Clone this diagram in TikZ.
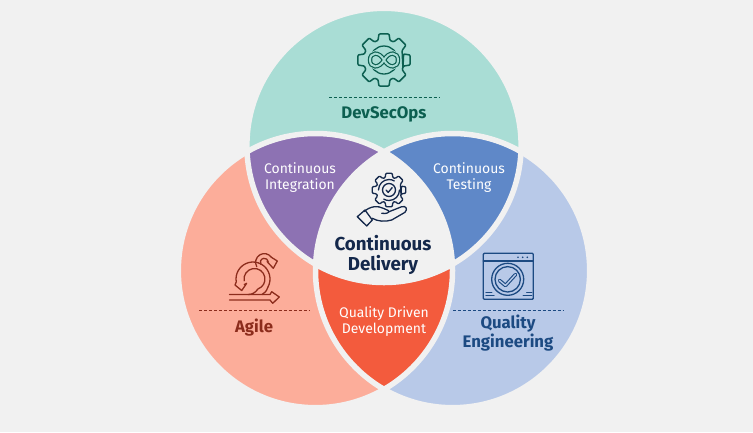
\documentclass[tikz,border=0pt]{standalone}
\usepackage{fontspec}
\setmainfont{Fira Sans}
\definecolor{bgc}{HTML}{F1F1F1}
\definecolor{greenc}{HTML}{A9DDD5}
\definecolor{salmonc}{HTML}{FCAD9A}
\definecolor{bluec}{HTML}{B8C9E8}
\definecolor{purplec}{HTML}{8D72B3}
\definecolor{midblue}{HTML}{5F88C8}
\definecolor{orangec}{HTML}{F35B3D}
\definecolor{dgreen}{HTML}{0C5F50}
\definecolor{dred}{HTML}{8C2C1C}
\definecolor{dblue}{HTML}{1C4A82}
\definecolor{navy}{HTML}{14284B}
\tikzset{
  gapline/.style={draw=bgc,line width=5.5bp},
  sep/.style={densely dashed,line width=0.7bp},
  inner/.style={text=white,align=center,font=\fontsize{14}{16}\selectfont,inner sep=0pt},
  title/.style={align=center,font=\fontsize{16.8}{16}\selectfont\bfseries,inner sep=0pt},
  icon/.style={line width=1.3bp,line join=round,line cap=round,fill=none},
}
\newcommand{\gearpath}[3]{\draw[icon,rounded corners=0.9bp,#3] (22.5:#1)
  \foreach \a in {0,45,...,315} { -- (\a-17:#1) -- (\a-11:#2) -- (\a+11:#2) -- (\a+17:#1) } -- cycle;}
\newcommand{\infpath}{(0,0) .. controls (5,-9) and (14,-8) .. (14,0) .. controls (14,8) and (5,9) .. (0,0) .. controls (-5,-9) and (-14,-8) .. (-14,0) .. controls (-14,8) and (-5,9) .. (0,0)}
\begin{document}
\begin{tikzpicture}[x=1bp,y=-1bp]
\useasboundingbox (0,0) rectangle (753,432);
\fill[bgc] (0,0) rectangle (753,432);
\def\R{137.1bp}
\coordinate (ct) at (384,145.4);
\coordinate (cl) at (315.4,270.6);
\coordinate (cr) at (452.6,270.6);
\fill[greenc] (ct) circle[radius=\R];
\fill[salmonc] (cl) circle[radius=\R];
\fill[bluec] (cr) circle[radius=\R];
\begin{scope}\clip (ct) circle[radius=\R];\fill[purplec] (cl) circle[radius=\R];\fill[midblue] (cr) circle[radius=\R];\end{scope}
\begin{scope}\clip (cl) circle[radius=\R];\fill[orangec] (cr) circle[radius=\R];\end{scope}
\begin{scope}\clip (ct) circle[radius=\R];\clip (cl) circle[radius=\R];\fill[bgc] (cr) circle[radius=\R];\end{scope}
\draw[gapline] (ct) circle[radius=\R];
\draw[gapline] (cl) circle[radius=\R];
\draw[gapline] (cr) circle[radius=\R];

% labels
\node[title,text=dgreen] (dso) at (384,114.5) {DevSecOps};
\node[title,text=dred] (agl) at (254,327.5) {Agile};
\node[title,text=dblue] (qe) at (508,333) {Quality\\Engineering};
\node[title,text=navy,font=\fontsize{18.8}{19.5}\selectfont\bfseries] (cd) at (383,255) {Continuous\\Delivery};
\node[inner] (ci) at (300,178) {Continuous\\Integration};
\node[inner] (ct2) at (469,178) {Continuous\\Testing};
\node[inner] (qdd) at (384,322) {Quality Driven\\Development};

% separators
\coordinate (s1a) at (329,97); \coordinate (s1b) at (439,97);
\coordinate (s2a) at (199,310); \coordinate (s2b) at (310,310);
\coordinate (s3a) at (453,310); \coordinate (s3b) at (563,310);
\draw[sep,dgreen] (s1a)--(s1b);
\draw[sep,dred] (s2a)--(s2b);
\draw[sep,dblue] (s3a)--(s3b);

% DevSecOps icon
\begin{scope}[shift={(384,60)},dgreen]
\gearpath{20.5}{26.5}{dgreen,line width=1.5bp}
\draw[icon] (0,0) circle[radius=14];
\draw[greenc,line width=6bp] \infpath;
\draw[dgreen,line width=4.4bp] \infpath;
\draw[greenc,line width=2bp] \infpath;
\end{scope}

% Continuous delivery icon
\begin{scope}[shift={(389,190)},navy]
\gearpath{13}{17}{navy}
\draw[icon] (0,0) circle[radius=6.5];
\draw[icon] (-10.5,0) arc[start angle=180,end angle=300,radius=10.5];
\draw[icon] (10.5,0) arc[start angle=0,end angle=120,radius=10.5];
\draw[icon] (-3,0) -- (-0.8,2.4) -- (3.2,-2.4);
\end{scope}
\draw[icon,navy] (357.3,216.7)--(365,210)--(372.3,220)--(366.7,226)--cycle;
\draw[icon,navy] (364,211.7) .. controls (370,206) and (378,205.5) .. (383.3,208.3) -- (388.3,210.5) .. controls (390,212.5) and (387,214) .. (381.7,213.3);
\draw[icon,navy] (388.3,212) -- (401.7,206.7) .. controls (406,205.5) and (408,209) .. (405,212.3) -- (391.7,220) .. controls (385,222) and (378,221.5) .. (372.3,218.3);

% Agile icon
\begin{scope}[dred]
\coordinate (ac) at (253,279);
\coordinate (ac2) at (254.5,279);
\coordinate (lc) at (264.3,262.3);
\draw[icon] (ac) ++(30:17) arc[start angle=30,end angle=-190,radius=17] -- (235,285) -- (241.7,290.5) -- (246.7,283.3) -- (244.3,284.5);
\draw[icon] (ac2) ++(170:10.5) arc[start angle=170,end angle=430,radius=10.5] .. controls (255,293) and (252,294.5) .. (248,294.5);
\draw[icon] (ac) ++(30:17) .. controls (266.5,291) and (265,293) .. (262,294.5);
\draw[icon] (lc) ++(150:8.7) arc[start angle=150,end angle=325,radius=8.7] -- (277.3,261) -- (273.3,268.3) -- (267,261.5);
\draw[icon] (lc) ++(-10:4) arc[start angle=-10,end angle=-210,radius=4];
\draw[icon] (229.5,294.5) -- (270,294.5) -- (271.7,291.7) -- (279.3,297) -- (272.7,303.3) -- (270,300) -- (229.5,300);
\end{scope}

% Quality Engineering icon
\begin{scope}[dblue]
\draw[icon,rounded corners=1bp] (483.3,253.3) rectangle (533.3,299.3);
\draw[icon] (483.3,261) -- (533.3,261);
\foreach \x in {518,522.7,527.3}{\fill (\x,257.3) circle[radius=0.9];}
\draw[icon] (507.7,279.3) circle[radius=16];
\draw[icon] (507.7,279.3) circle[radius=12.7];
\draw[dblue,line width=3.6bp,line join=round,line cap=round] (499.5,280.5) -- (505.5,285.5) -- (515.5,274.5);
\draw[bluec,line width=1.4bp,line join=round,line cap=round] (499.5,280.5) -- (505.5,285.5) -- (515.5,274.5);
\draw[icon] (486,292.7) -- (491.7,292.7);
\draw[icon] (486,295.7) -- (494,295.7);
\draw[icon] (526.7,292.7) -- (531.7,292.7);
\draw[icon] (523.3,295.7) -- (531.7,295.7);
\end{scope}
\end{tikzpicture}
\end{document}
